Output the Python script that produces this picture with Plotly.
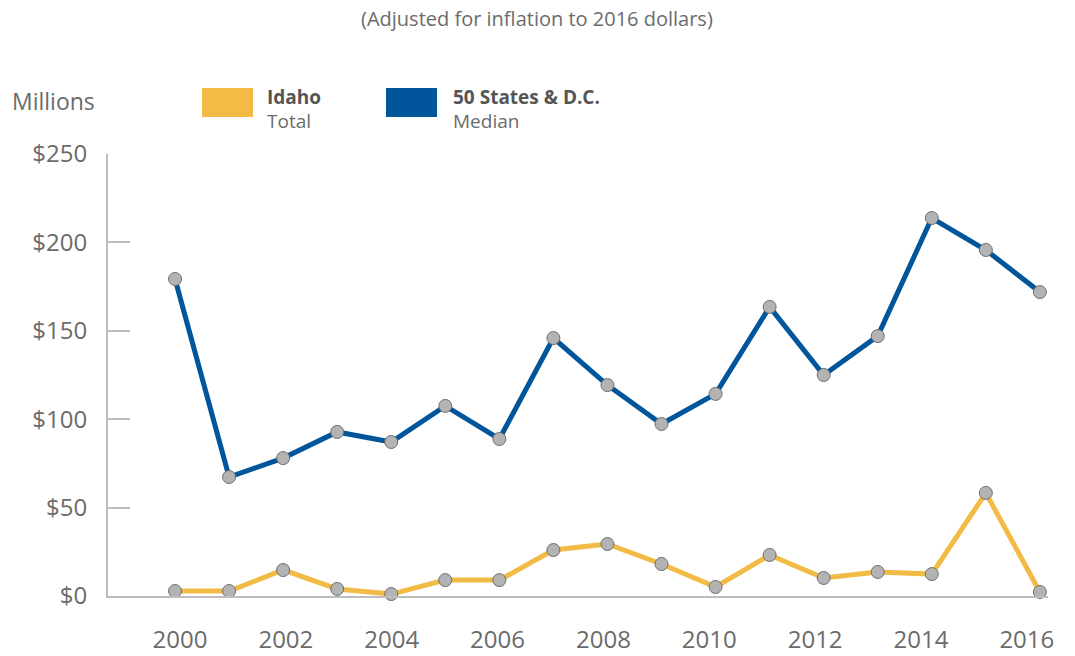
import plotly.graph_objects as go

years = list(range(2000, 2017))
idaho_total = [2.8, 2.8, 14.7, 4.0, 1.1, 9.0, 9.0, 26.0, 29.4, 18.1, 5.1, 23.2, 10.2, 13.6, 12.4, 58.3, 2.3]
states_median = [179.3, 67.3, 78.0, 92.8, 87.1, 107.5, 88.8, 145.9, 119.3, 97.3, 114.3, 163.5, 125.0, 147.0, 213.8, 195.7, 171.9]
y_ticks = [0, 50, 100, 150, 200, 250]
y_tick_labels = ["$0", "$50", "$100", "$150", "$200", "$250"]
x_ticks = list(range(2000, 2017, 2))
x_tick_labels = [str(y) for y in x_ticks]

YELLOW = "#F2BB45"
BLUE = "#00559B"
GRAY_TXT = "#6b6b6b"
AXIS = "#bdbdbd"
FONT = "Open Sans"

W, H = 1075, 656
L, R, T, B = 108, 27, 154, 60
PW, PH = W - L - R, H - T - B


def px(x):
    return (x - L) / PW


def py(y):
    return (H - B - y) / PH


marker = dict(size=13, color="#b3b3b3", line=dict(color="#6e6e6e", width=1))

fig = go.Figure()
fig.add_trace(go.Scatter(x=years, y=states_median, mode="lines+markers",
                         line=dict(color=BLUE, width=5), marker=marker,
                         name="50 States & D.C. Median", cliponaxis=False))
fig.add_trace(go.Scatter(x=years, y=idaho_total, mode="lines+markers",
                         line=dict(color=YELLOW, width=5), marker=marker,
                         name="Idaho Total", cliponaxis=False))
# invisible trace carrying the x tick label axis
fig.add_trace(go.Scatter(x=[x_ticks[0], x_ticks[-1]], y=[None, None], xaxis="x2",
                         mode="markers", showlegend=False, hoverinfo="skip"))

fig.update_layout(
    width=W, height=H,
    margin=dict(l=L, r=R, t=T, b=B),
    plot_bgcolor="white", paper_bgcolor="white",
    showlegend=False,
    font=dict(family=FONT, color=GRAY_TXT),
    xaxis=dict(range=[1998.76, 2016.15], showgrid=False, zeroline=False,
               showticklabels=False, showline=True, linecolor=AXIS, linewidth=2,
               ticks="", automargin=False),
    xaxis2=dict(overlaying="x", side="bottom", range=[1998.64, 2016.40],
                tickvals=x_ticks, ticktext=x_tick_labels, showgrid=False,
                zeroline=False, showline=False, ticks="", automargin=False,
                tickfont=dict(size=24, color=GRAY_TXT, family=FONT),
                ticklabelstandoff=27),
    yaxis=dict(range=[0, 250], tickvals=y_ticks, ticktext=y_tick_labels,
               showgrid=False, zeroline=False, showline=True, linecolor=AXIS,
               linewidth=2, ticks="inside", ticklen=22, tickcolor=AXIS, tickwidth=2,
               tickfont=dict(size=24, color=GRAY_TXT, family=FONT),
               ticklabelstandoff=14, automargin=False),
)

fig.add_annotation(text="(Adjusted for inflation to 2016 dollars)", xref="paper", yref="paper",
                   x=px(537), y=py(18), xanchor="center", yanchor="middle", showarrow=False,
                   font=dict(size=20, color=GRAY_TXT, family=FONT))
fig.add_annotation(text="Millions", xref="paper", yref="paper",
                   x=px(10), y=py(101), xanchor="left", yanchor="middle", showarrow=False,
                   font=dict(size=23, color=GRAY_TXT, family=FONT))

legend_items = [(202, 253, YELLOW, 265, "Idaho", "Total"),
                (386, 437, BLUE, 451, "50 States & D.C.", "Median")]
for x0, x1, col, tx, bold, sub in legend_items:
    fig.add_shape(type="rect", xref="paper", yref="paper",
                  x0=px(x0), x1=px(x1), y0=py(117), y1=py(88),
                  fillcolor=col, line=dict(width=0))
    fig.add_annotation(text="<b>" + bold + "</b>", xref="paper", yref="paper",
                       x=px(tx), y=py(97), xanchor="left", yanchor="middle", showarrow=False,
                       font=dict(size=19, color="#555555", family=FONT))
    fig.add_annotation(text=sub, xref="paper", yref="paper",
                       x=px(tx), y=py(121), xanchor="left", yanchor="middle", showarrow=False,
                       font=dict(size=19, color=GRAY_TXT, family=FONT))

fig.write_html("out.html", config={"displayModeBar": False},
               post_script="document.body.style.margin='0';document.body.style.overflow='hidden';")
